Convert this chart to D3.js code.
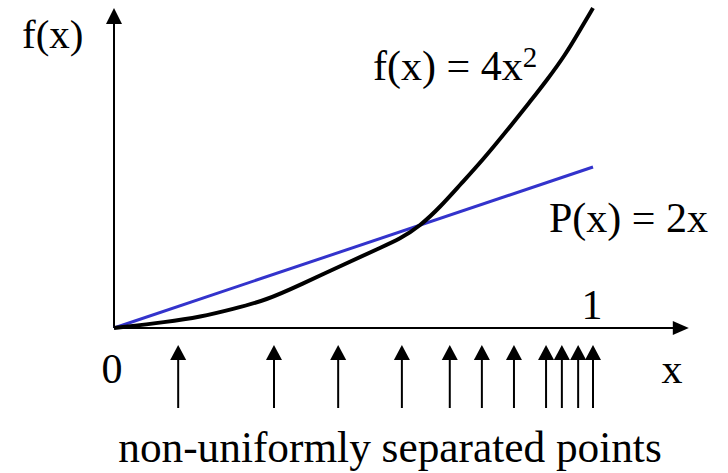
<!DOCTYPE html>
<html lang="en">
<head>
<meta charset="UTF-8">
<script src="https://d3js.org/d3.v7.min.js"></script>
<style>
  html, body { margin: 0; padding: 0; background: #fff; }
</style>
<title>Non-uniform points</title>
</head>
<body>
<div id="chart"></div>
<script>
// curve f(x) as drawn
let curveX = [0, 0.111, 0.180, 0.248, 0.319, 0.388, 0.486, 0.555, 0.597, 0.639, 0.681, 0.722, 0.770, 0.833, 0.868, 0.904, 0.942, 0.973, 1.0];
let curveY = [0, 0.075, 0.137, 0.236, 0.348, 0.534, 0.807, 0.994, 1.106, 1.267, 1.503, 1.776, 2.087, 2.547, 2.807, 3.081, 3.391, 3.702, 3.975];
// P(x) = 2x
let lineX = [0, 1];
let lineY = [0, 2];
// the non-uniformly separated points
let pointX = [0.134, 0.334, 0.468, 0.601, 0.701, 0.768, 0.835, 0.902, 0.935, 0.969, 1.0];

let width = 728, height = 473;

let svg = d3.select("#chart").append("svg")
    .attr("width", width)
    .attr("height", height);

// scales: x=0 at 114px, x=1 at 593px; y=0 at 328px, one unit = 80.5px
let x = d3.scaleLinear().domain([0, 1]).range([114, 593]);
let y = d3.scaleLinear().domain([0, 2]).range([328, 167]);

let xEnd = 1.2, yEnd = 3.975;

// axes
svg.append("line")
    .attr("x1", x(0)).attr("y1", y(0))
    .attr("x2", x(xEnd) - 12).attr("y2", y(0))
    .attr("stroke", "#000").attr("stroke-width", 2);
svg.append("path")
    .attr("d", "M" + x(xEnd) + "," + y(0) + " l-16,-7 l0,14 z")
    .attr("fill", "#000");

svg.append("line")
    .attr("x1", x(0)).attr("y1", y(0))
    .attr("x2", x(0)).attr("y2", y(yEnd) + 12)
    .attr("stroke", "#000").attr("stroke-width", 2);
svg.append("path")
    .attr("d", "M" + x(0) + "," + y(yEnd) + " l-8,16 l16,0 z")
    .attr("fill", "#000");

// P(x) line
let lineData = lineX.map(function(d, i) { return [d, lineY[i]]; });
svg.append("path")
    .datum(lineData)
    .attr("fill", "none")
    .attr("stroke", "#3333cc")
    .attr("stroke-width", 3)
    .attr("d", d3.line().x(function(d) { return x(d[0]); }).y(function(d) { return y(d[1]); }));

// f(x) curve
let curveData = curveX.map(function(d, i) { return [d, curveY[i]]; });
svg.append("path")
    .datum(curveData)
    .attr("fill", "none")
    .attr("stroke", "#000")
    .attr("stroke-width", 4)
    .attr("d", d3.line().curve(d3.curveBasis)
        .x(function(d) { return x(d[0]); }).y(function(d) { return y(d[1]); }));

// point arrows
let arrowTop = 345, arrowBottom = 408;
let arrows = svg.selectAll(".pt").data(pointX).enter().append("g").attr("class", "pt");
arrows.append("line")
    .attr("x1", function(d) { return x(d); }).attr("x2", function(d) { return x(d); })
    .attr("y1", arrowTop + 10).attr("y2", arrowBottom)
    .attr("stroke", "#000").attr("stroke-width", 2);
arrows.append("path")
    .attr("d", function(d) { return "M" + x(d) + "," + arrowTop + " l-8,15 l16,0 z"; })
    .attr("fill", "#000");

// labels
let label = function(tx, ty, anchor, txt, size) {
    return svg.append("text")
        .attr("x", tx).attr("y", ty)
        .attr("text-anchor", anchor)
        .attr("font-family", "Liberation Serif")
        .attr("font-size", size || 42)
        .attr("fill", "#000")
        .text(txt);
};
label(22, 48, "start", "f(x)", 41);
label(x(0) - 2, 383, "middle", "0");
label(x(1) - 1, 319, "middle", "1");
label(672, 383, "middle", "x");
label(549, 232, "start", "P(x) = 2x");
label(390, 462, "middle", "non-uniformly separated points", 43.3);

let fl = label(373, 80, "start", "f(x) = 4x");
fl.append("tspan").attr("dy", -13).attr("font-size", 29).text("2");
</script>
</body>
</html>
